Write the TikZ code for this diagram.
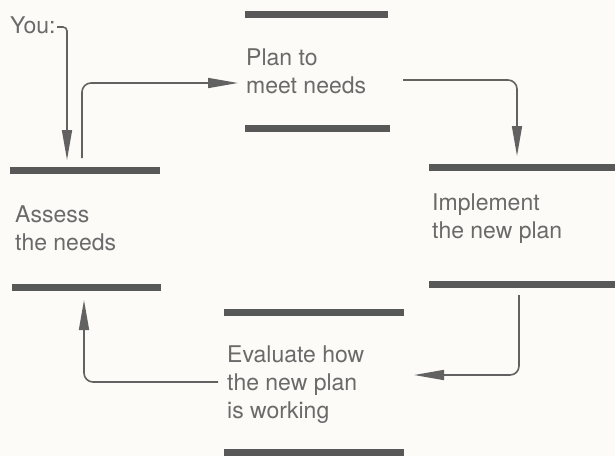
\documentclass[tikz,border=0pt]{standalone}
\usepackage{fontspec}
\setmainfont{TeX Gyre Heros}
\usetikzlibrary{arrows.meta}
\definecolor{barc}{HTML}{585858}
\definecolor{txtc}{HTML}{6A6A6A}
\definecolor{linec}{HTML}{626262}
\definecolor{bgc}{HTML}{FCFBF7}
\tikzset{
  bar/.style={fill=barc, draw=none, inner sep=0pt, minimum height=7pt},
  lbl/.style={anchor=north west, inner sep=0pt, align=left, text=txtc,
              font=\fontsize{23}{28}\selectfont},
  arr/.style={draw=linec, line width=1.6pt, rounded corners=9pt,
              -{Triangle[length=30pt,width=10pt]}},
}
\begin{document}
\begin{tikzpicture}[x=1pt,y=-1pt]
\fill[bgc] (0,0) rectangle (615,456);
\useasboundingbox (0,0) rectangle (615,456);

% bars
\node[bar, minimum width=150pt] (aTop) at (85,170) {};
\node[bar, minimum width=149pt] (aBot) at (86.5,287) {};
\node[bar, minimum width=143pt] (pTop) at (316.5,14) {};
\node[bar, minimum width=145pt] (pBot) at (317.5,128) {};
\node[bar, minimum width=186pt] (iTop) at (522,167) {};
\node[bar, minimum width=186pt] (iBot) at (522,284) {};
\node[bar, minimum width=180pt] (eTop) at (314,312) {};
\node[bar, minimum width=180pt] (eBot) at (314,452) {};

% labels
\node[lbl] (you) at (10,16.5) {You:};
\node[lbl] (assess) at (15,205.5) {Assess\\the needs};
\node[lbl] (plan) at (246,48.5) {Plan to\\meet needs};
\node[lbl] (impl) at (432,193.5) {Implement\\the new plan};
\node[lbl] (eval) at (227,345.5) {Evaluate how\\the new plan\\is working};

% connector end points
\coordinate (y0) at (57,27);
\coordinate (a0) at (67,160);
\coordinate (a1) at (82,158);
\coordinate (p0) at (238,83);
\coordinate (p1) at (403,80);
\coordinate (i0) at (517,156);
\coordinate (i1) at (519,295);
\coordinate (e0) at (414,375);
\coordinate (e1) at (218,382);
\coordinate (a2) at (84,300);

\draw[arr, rounded corners=4pt] (y0) -| (a0);
\draw[arr] (a1) |- (p0);
\draw[arr] (p1) -| (i0);
\draw[arr] (i1) |- (e0);
\draw[arr] (e1) -| (a2);
\end{tikzpicture}
\end{document}
